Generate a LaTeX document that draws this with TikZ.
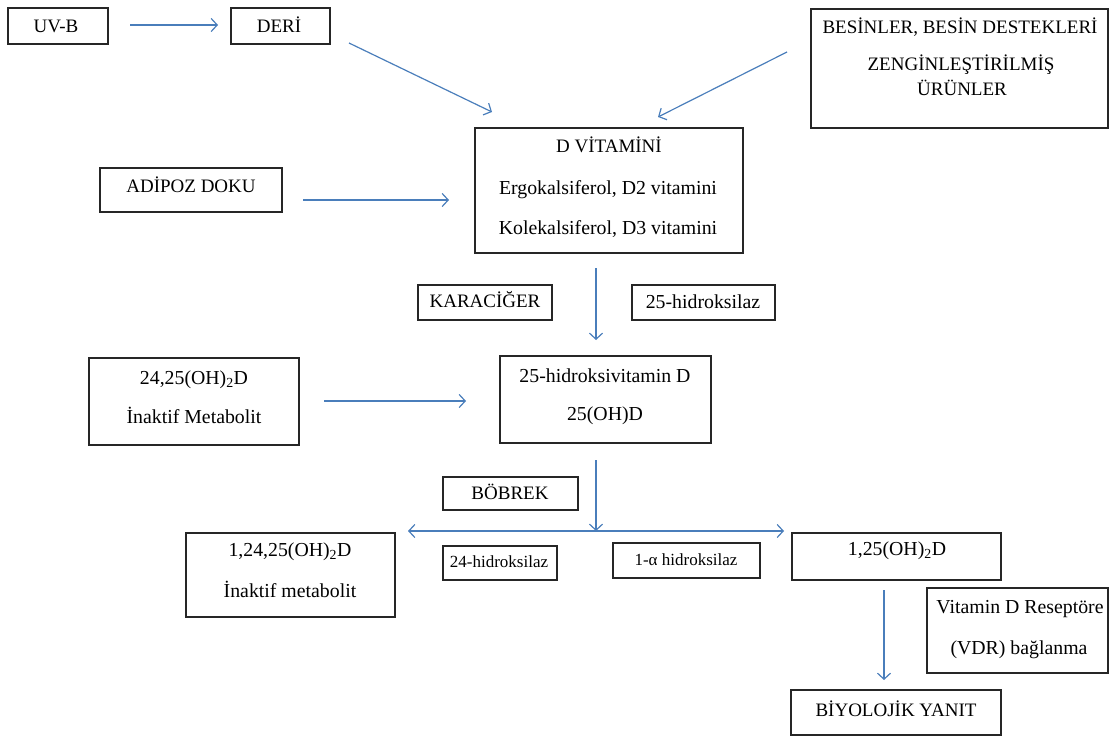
\documentclass[tikz,border=0pt]{standalone}
\usepackage{fontspec}
\setmainfont{Liberation Serif}
\usetikzlibrary{arrows.meta}
\definecolor{arrblue}{HTML}{4A7EBB}
\definecolor{boxline}{HTML}{262626}
\tikzset{
  box/.style={draw=boxline, line width=1.3pt, inner sep=0pt, outer sep=0pt, rectangle},
  txt/.style={inner sep=0pt, text height=13pt, text depth=0pt, font=\fontsize{19.8}{22}\selectfont},
  captxt/.style={inner sep=0pt, text height=13pt, text depth=0pt, font=\fontsize{19}{22}\selectfont},
  smalltxt/.style={inner sep=0pt, text height=11.5pt, text depth=0pt, font=\fontsize{17}{20}\selectfont},
  arr/.style={draw=arrblue, line width=1.2pt, -{Straight Barb[length=6pt,width=13pt]}},
}
\begin{document}
\begin{tikzpicture}[x=1pt,y=-1pt]
\useasboundingbox (0,0) rectangle (1110,738);
% boxes
\node[box, minimum width=100pt, minimum height=36pt] (uvb) at (58,26) {};
\node[box, minimum width=99pt, minimum height=36pt] (deri) at (280.5,26) {};
\node[box, minimum width=297pt, minimum height=119pt] (besin) at (959.5,68.5) {};
\node[box, minimum width=268pt, minimum height=125pt] (dvit) at (609,190.5) {};
\node[box, minimum width=182pt, minimum height=44pt] (adipoz) at (191,190) {};
\node[box, minimum width=134pt, minimum height=35pt] (kc) at (485,302.5) {};
\node[box, minimum width=143pt, minimum height=35pt] (h25) at (703.5,302.5) {};
\node[box, minimum width=210pt, minimum height=87pt] (m2425) at (194,401.5) {};
\node[box, minimum width=211pt, minimum height=87pt] (ohd) at (605.5,399.5) {};
\node[box, minimum width=135pt, minimum height=33pt] (bobrek) at (510.5,493.5) {};
\node[box, minimum width=209pt, minimum height=84pt] (m12425) at (290.5,575) {};
\node[box, minimum width=114pt, minimum height=34pt] (h24) at (500,563) {};
\node[box, minimum width=147pt, minimum height=35pt] (h1a) at (686.5,560.5) {};
\node[box, minimum width=209pt, minimum height=47pt] (d125) at (896.5,556.5) {};
\node[box, minimum width=181pt, minimum height=85pt] (vdr) at (1017.5,630.5) {};
\node[box, minimum width=210pt, minimum height=45pt] (biyo) at (896,712.5) {};
% texts
\node[captxt] (tuvb) at (56,26) {UV-B};
\node[captxt] (tderi) at (279,26) {DERİ};
\node[captxt] (tbes1) at (960,27) {BESİNLER, BESİN DESTEKLERİ};
\node[captxt] (tbes2) at (961,64) {ZENGİNLEŞTİRİLMİŞ};
\node[captxt] (tbes3) at (962,89) {ÜRÜNLER};
\node[captxt] (tdv1) at (609,146) {D VİTAMİNİ};
\node[txt] (tdv2) at (608,188) {Ergokalsiferol, D2 vitamini};
\node[txt] (tdv3) at (608,228) {Kolekalsiferol, D3 vitamini};
\node[captxt] (tadi) at (191,186) {ADİPOZ DOKU};
\node[captxt] (tkc) at (485,301) {KARACİĞER};
\node[txt] (th25) at (703,302) {25-hidroksilaz};
\node[txt] (tm1) at (194,378) {24,25(OH)\textsubscript{2}D};
\node[txt] (tm2) at (194,417) {İnaktif Metabolit};
\node[txt] (to1) at (605,376) {25-hidroksivitamin D};
\node[txt] (to2) at (605,414) {25(OH)D};
\node[captxt] (tbob) at (510,493) {BÖBREK};
\node[txt] (tn1) at (290,550) {1,24,25(OH)\textsubscript{2}D};
\node[txt] (tn2) at (290,591) {İnaktif metabolit};
\node[smalltxt] (th24) at (499,562) {24-hidroksilaz};
\node[smalltxt] (th1a) at (686,560) {1-α hidroksilaz};
\node[txt] (td125) at (897,549) {1,25(OH)\textsubscript{2}D};
\node[txt] (tv1) at (1020,607) {Vitamin D Reseptöre};
\node[txt] (tv2) at (1019,648) {(VDR) bağlanma};
\node[captxt] (tbiy) at (896,710) {BİYOLOJİK YANIT};
% connectors
\coordinate (split) at (596,531);
\draw[arr] ([shift={(22,-1)}]uvb.east) -- ([shift={(-13,-1)}]deri.west);
\draw[arr] ([shift={(19,-1)}]deri.south east) -- ([shift={(17,-16)}]dvit.north west);
\draw[arr] ([shift={(-24,-16.5)}]besin.west) -- ([shift={(49,-11)}]dvit.north);
\draw[arr] ([shift={(21,10)}]adipoz.east) -- ([shift={(-26,9.5)}]dvit.west);
\draw[arr] ([shift={(-13,15)}]dvit.south) -- ([shift={(-9.5,-16)}]ohd.north);
\draw[arr] ([shift={(25,-0.5)}]m2425.east) -- ([shift={(-34,1.5)}]ohd.west);
\draw[arr] ([shift={(-9.5,17)}]ohd.south) -- (split);
\draw[arr] (split) -- ([shift={(13,-2)}]m12425.north east);
\draw[arr] (split) -- ([shift={(-8,-2)}]d125.north west);
\draw[arr] ([shift={(-12.5,10)}]d125.south) -- ([shift={(-12,-10)}]biyo.north);
\end{tikzpicture}
\end{document}
